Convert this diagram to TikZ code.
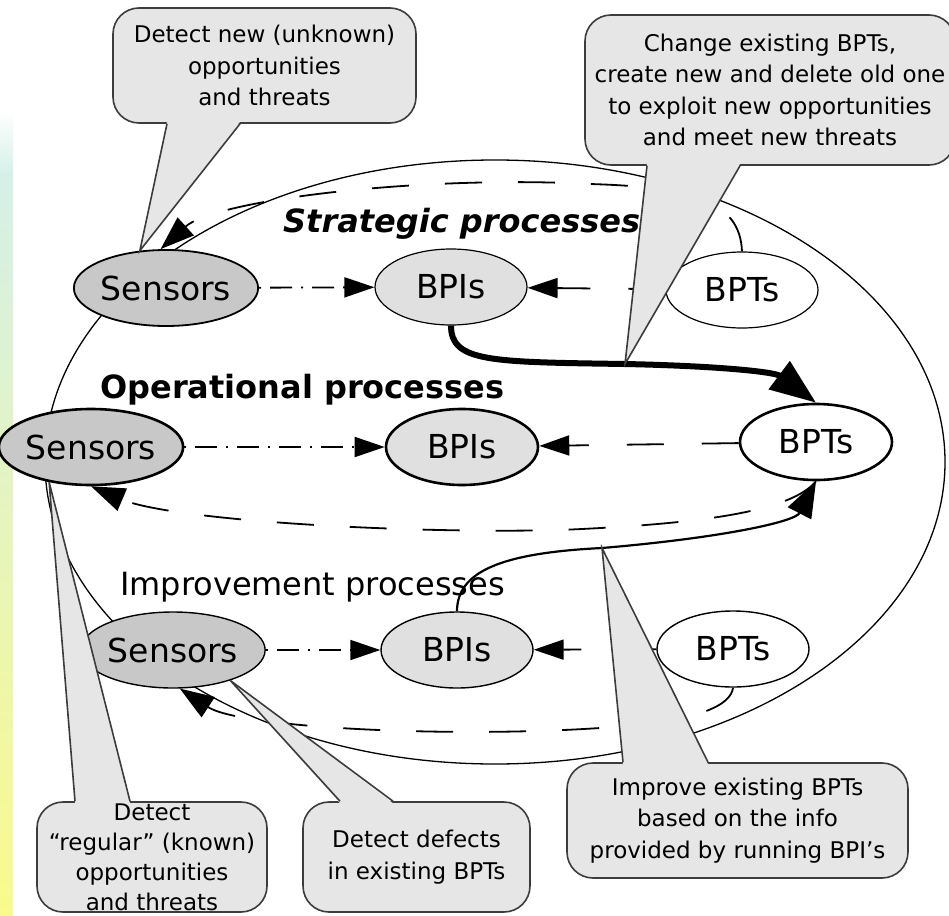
\documentclass[tikz,border=0pt]{standalone}
\usepackage{fontspec}
\setmainfont{DejaVu Sans}
\definecolor{sensorgray}{RGB}{200,200,200}
\definecolor{bpigray}{RGB}{224,224,224}
\definecolor{notegray}{RGB}{230,230,230}
\definecolor{noteline}{RGB}{60,60,60}
\definecolor{stripcyan}{RGB}{212,240,232}
\definecolor{stripyellow}{RGB}{250,250,140}
\usetikzlibrary{shapes.geometric, arrows.meta, positioning, calc}

\begin{document}
\begin{tikzpicture}[x=1pt, y=-1pt,
  proc/.style={draw, ellipse, inner sep=0pt, minimum width=152pt, minimum height=76pt, font=\fontsize{33}{36}\selectfont},
  sensor/.style={proc, fill=sensorgray},
  bpi/.style={proc, fill=bpigray},
  bpt/.style={proc, fill=white},
  note/.style={draw=noteline, fill=notegray, line width=1.6pt, rounded corners=26pt, align=center, inner sep=0pt, font=\fontsize{23}{31.5}\selectfont},
  tail/.style={draw=noteline, line width=1.6pt},
  level/.style={anchor=base west, inner sep=0pt},
  fwd/.style={line width=1.8pt, -{Triangle[length=30pt, width=20pt]}},
  sensline/.style={fwd, dash pattern=on 2pt off 9pt on 22pt off 9pt},
  bptline/.style={fwd, dash pattern=on 37pt off 38pt},
  backline/.style={line width=1.8pt, dash pattern=on 37pt off 36pt, -{Triangle[length=34pt, width=24pt]}}
]
  \useasboundingbox (0,0) rectangle (949,915);
  \clip (0,0) rectangle (949,915);
  \fill[white] (0,0) rectangle (949,915);

  % coloured strip on the left
  \shade[top color=white, bottom color=stripcyan] (0,110) rectangle (13,176);
  \shade[top color=stripcyan, bottom color=stripyellow] (0,175) rectangle (13,915);

  % the process cycle
  \node[draw, ellipse, line width=1.3pt, minimum width=900pt, minimum height=604pt, inner sep=0pt] (procs) at (495,462) {};

  % levels
  \node[level, font=\fontsize{32}{36}\selectfont\bfseries\itshape] (strat) at (283,232) {Strategic processes};
  \node[level, font=\fontsize{32}{36}\selectfont\bfseries] (oper) at (100,398) {Operational processes};
  \node[level, font=\fontsize{32}{36}\selectfont] (impr) at (120,595) {Improvement processes};

  % sensors, indicators and templates
  \node[sensor, line width=1.8pt] (sensS) at (166,288) {Sensors};
  \node[bpi, line width=1.2pt] (bpiS) at (451,287) {BPIs};
  \node[bpt, line width=1.2pt] (bptS) at (742,290) {BPTs};
  \node[sensor, line width=2.6pt] (sensO) at (91,447) {Sensors};
  \node[bpi, line width=2.6pt] (bpiO) at (462,447) {BPIs};
  \node[bpt, line width=2.6pt] (bptO) at (816,442) {BPTs};
  \node[sensor, line width=1.4pt] (sensI) at (173,650) {Sensors};
  \node[bpi, line width=1.4pt] (bpiI) at (457,650) {BPIs};
  \node[bpt, line width=1.4pt] (bptI) at (733,649) {BPTs};

  % rows
  \draw[sensline] (sensS) -- (bpiS);
  \draw[bptline] (bptS) -- (bpiS);
  \draw[sensline] (sensO) -- (bpiO);
  \draw[bptline] (bptO) -- (bpiO);
  \draw[sensline] (sensI) -- (bpiI);
  \draw[bptline] (bptI) -- (bpiI);

  % feedback to the sensors
  \draw[backline] (bptS.north) .. controls (740,200) and (690,187) .. (590,184) .. controls (420,175) and (215,200) .. (sensS.98);
  \draw[backline] (bptO.south) .. controls (790,512) and (700,524) .. (560,530) .. controls (400,534) and (170,520) .. (sensO.south);
  \draw[backline] (bptI.south) .. controls (731,705) and (700,722) .. (600,728) .. controls (450,738) and (240,728) .. (sensI.-80);

  % changes and improvements of the templates
  \coordinate (turnS) at (625,364);
  \coordinate (turnI) at (602,548);
  \draw[line width=6pt, -{Triangle[length=46pt, width=34pt]}] (bpiS.south) .. controls (451,362) and (490,362) .. (turnS) .. controls (720,366) and (775,372) .. (bptO.north);
  \draw[line width=2.2pt, -{Triangle[length=36pt, width=26pt]}] (bpiI.north) .. controls (457,572) and (500,553) .. (turnI) .. controls (720,538) and (795,522) .. (bptO.south);

  % callouts
  \node[note, minimum width=303pt, minimum height=115pt] (noteNew) at (264.5,65.5) {Detect new (unknown)\\opportunities\\and threats};
  \fill[notegray] ([xshift=-97.5pt, yshift=2pt]noteNew.south) -- (sensS.125) -- ([xshift=-24.5pt, yshift=2pt]noteNew.south) -- cycle;
  \draw[tail] ([xshift=-97.5pt]noteNew.south) -- (sensS.125) -- ([xshift=-24.5pt]noteNew.south);

  \node[note, minimum width=370pt, minimum height=150pt] (noteChange) at (770,90) {Change existing BPTs,\\create new and delete old one\\to exploit new opportunities\\and meet new threats};
  \fill[notegray] ([xshift=-123pt, yshift=2pt]noteChange.south) -- (turnS) -- ([xshift=-30pt, yshift=2pt]noteChange.south) -- cycle;
  \draw[tail] ([xshift=-123pt]noteChange.south) -- (turnS) -- ([xshift=-30pt]noteChange.south);

  \node[note, minimum width=230pt, minimum height=110pt, font=\fontsize{23}{30}\selectfont] (noteRegular) at (152,857) {Detect\\“regular” (known)\\opportunities\\and threats};
  \fill[notegray] ([xshift=-77pt, yshift=-2pt]noteRegular.north) -- (sensO.-140) -- ([xshift=-22pt, yshift=-2pt]noteRegular.north) -- cycle;
  \draw[tail] ([xshift=-77pt]noteRegular.north) -- (sensO.-140) -- ([xshift=-22pt]noteRegular.north);

  \node[note, minimum width=227pt, minimum height=110pt] (noteDefect) at (416.5,857) {Detect defects\\in existing BPTs};
  \fill[notegray] ([xshift=-76.5pt, yshift=-2pt]noteDefect.north) -- (sensI.-28) -- ([xshift=-23.5pt, yshift=-2pt]noteDefect.north) -- cycle;
  \draw[tail] ([xshift=-76.5pt]noteDefect.north) -- (sensI.-28) -- ([xshift=-23.5pt]noteDefect.north);

  \node[note, minimum width=341pt, minimum height=115pt] (noteImprove) at (737.5,820.5) {Improve existing BPTs\\based on the info\\provided by running BPI's};
  \fill[notegray] ([xshift=-114.5pt, yshift=-2pt]noteImprove.north) -- (turnI) -- ([xshift=-29.5pt, yshift=-2pt]noteImprove.north) -- cycle;
  \draw[tail] ([xshift=-114.5pt]noteImprove.north) -- (turnI) -- ([xshift=-29.5pt]noteImprove.north);
\end{tikzpicture}
\end{document}
